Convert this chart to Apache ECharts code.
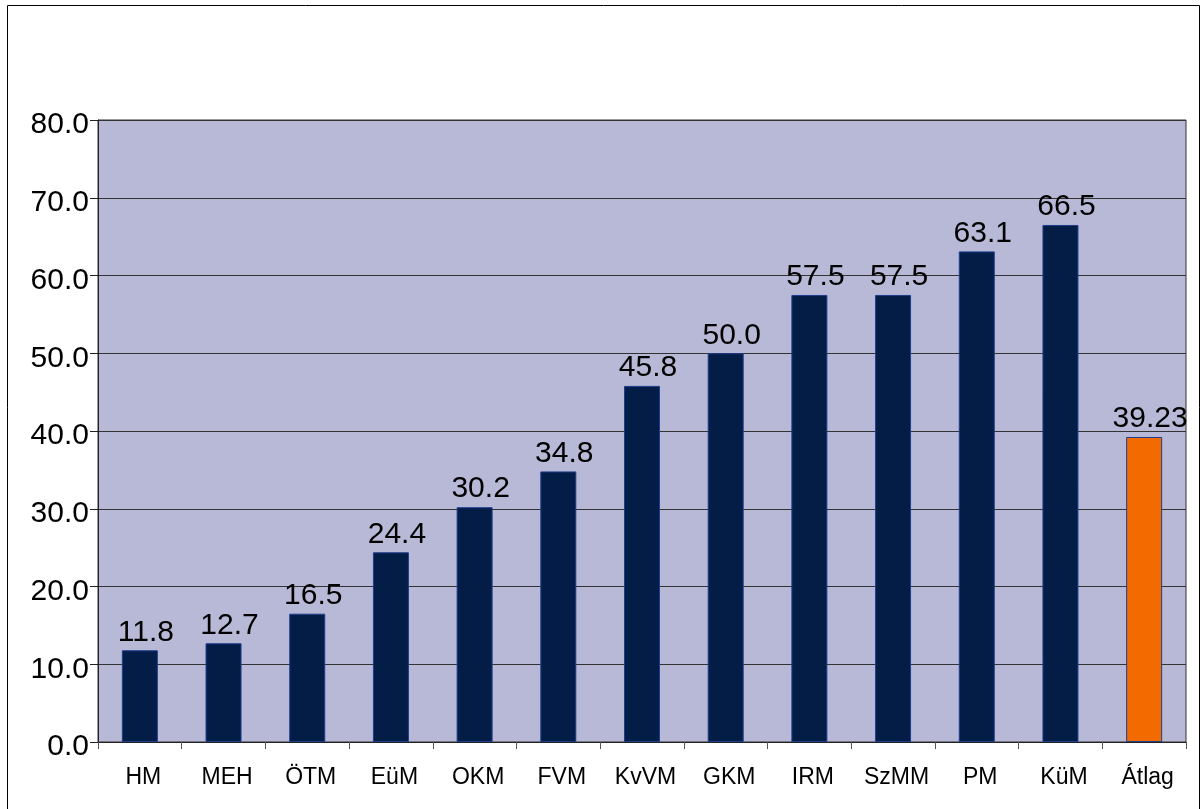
<!DOCTYPE html>
<html>
<head>
<meta charset="utf-8">
<script src="https://cdn.jsdelivr.net/npm/echarts@6/dist/echarts.min.js"></script>
<style>
  html, body { margin: 0; padding: 0; background: #ffffff; }
  #chart { width: 1204px; height: 809px; }
</style>
</head>
<body>
<div id="chart"></div>
<script>
// Ministries and the overall average
const categories = ['HM', 'MEH', 'ÖTM', 'EüM', 'OKM', 'FVM', 'KvVM', 'GKM', 'IRM', 'SzMM', 'PM', 'KüM', 'Átlag'];
const values = [11.8, 12.7, 16.5, 24.4, 30.2, 34.8, 45.8, 50.0, 57.5, 57.5, 63.1, 66.5, 39.23];
// Decimal places shown on each bar's value label
const labelDecimals = [1, 1, 1, 1, 1, 1, 1, 1, 1, 1, 1, 1, 2];
// Value axis ticks
const yTicks = [0, 10, 20, 30, 40, 50, 60, 70, 80];

const NAVY = '#041d47';
const ORANGE = '#f26b00';
const EDGE = '#1f3d8f';
const FONT = 'Liberation Sans, Arial, sans-serif';

const chart = echarts.init(document.getElementById('chart'), null, { renderer: 'canvas' });

chart.setOption({
  backgroundColor: '#ffffff',
  animation: false,
  graphic: [{
    type: 'rect',
    shape: { x: 7.5, y: 5.5, width: 1192, height: 810 },
    style: { fill: 'none', stroke: '#000000', lineWidth: 1 },
    z: 100
  }],
  grid: {
    left: 98, right: 18, top: 120, bottom: 67,
    show: true,
    backgroundColor: '#b8b9d6',
    borderColor: '#333333',
    borderWidth: 1
  },
  xAxis: {
    type: 'category',
    data: categories,
    axisLine: { show: true, lineStyle: { color: '#222222', width: 1 } },
    axisTick: { show: true, alignWithLabel: false, length: 7, lineStyle: { color: '#555555' } },
    axisLabel: {
      color: '#000000', fontFamily: FONT, fontSize: 23, margin: 24, interval: 0,
      padding: [0, 0, 0, 7]
    }
  },
  yAxis: {
    type: 'value',
    min: yTicks[0],
    max: yTicks[yTicks.length - 1],
    interval: yTicks[1] - yTicks[0],
    axisLine: { show: true, lineStyle: { color: '#222222', width: 1 } },
    axisTick: { show: true, length: 8, lineStyle: { color: '#222222' } },
    splitLine: { show: true, lineStyle: { color: '#333333', width: 1 } },
    axisLabel: {
      color: '#000000', fontFamily: FONT, fontSize: 30, margin: 9,
      verticalAlign: 'top',
      lineHeight: 10,
      formatter: v => v.toFixed(1)
    }
  },
  series: [{
    type: 'bar',
    barWidth: 36,
    data: values.map((v, i) => ({
      value: v,
      itemStyle: { color: i === values.length - 1 ? ORANGE : NAVY }
    })),
    itemStyle: { borderColor: EDGE, borderWidth: 1 },
    label: {
      show: true,
      position: 'top',
      distance: 3,
      offset: [6, 0],
      color: '#000000',
      fontFamily: FONT,
      fontSize: 30,
      formatter: p => p.value.toFixed(labelDecimals[p.dataIndex])
    }
  }]
});
</script>
</body>
</html>
